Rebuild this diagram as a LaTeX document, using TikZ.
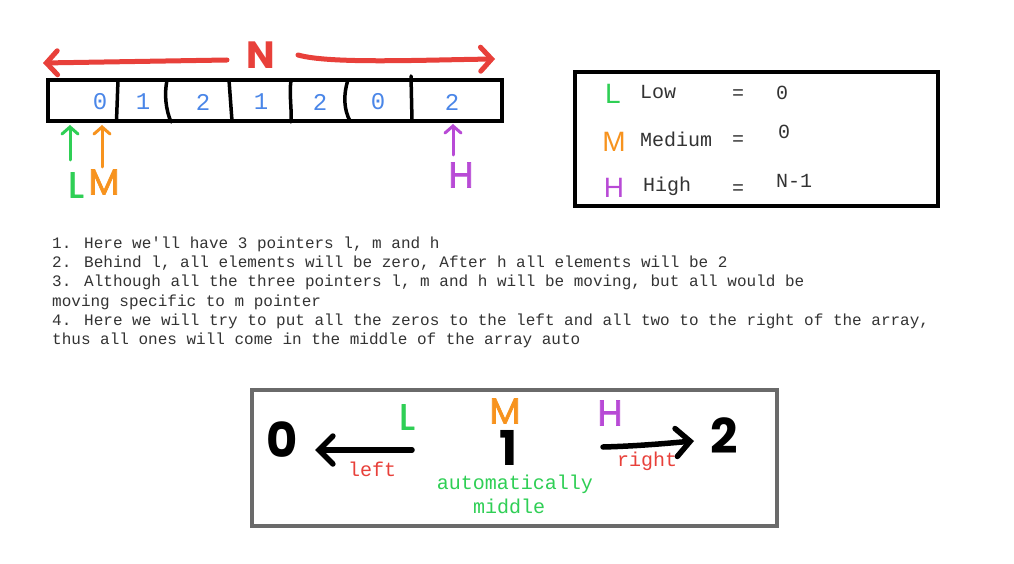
\documentclass[tikz,border=0pt]{standalone}
\usepackage{fontspec}
\setmainfont{Liberation Sans}
\newfontfamily\mono{Liberation Mono}
\newfontfamily\hand{Poppins}
\newfontfamily\handm[FakeBold=2]{Poppins}
\usetikzlibrary{arrows.meta}
\definecolor{cred}{HTML}{E8403A}
\definecolor{cblue}{HTML}{4A86E8}
\definecolor{cgreen}{HTML}{2FCF55}
\definecolor{corange}{HTML}{F7931E}
\definecolor{cpurple}{HTML}{B84AD6}
\definecolor{ctext}{HTML}{333333}
\definecolor{cgray}{HTML}{6A6A6A}
\tikzset{
  para/.style={anchor=base west, inner sep=0pt, text=ctext, font=\mono\fontsize{16}{19}\selectfont},
  digit/.style={inner sep=0pt, text=cblue, font=\mono\fontsize{24}{28}\selectfont},
  legtxt/.style={anchor=base west, inner sep=0pt, text=ctext, font=\mono\fontsize{20}{24}\selectfont},
  legletter/.style={inner sep=0pt, font=\fontsize{28}{30}\selectfont},
  handl/.style={inner sep=0pt, font=\handm\fontsize{36}{40}\selectfont},
  handb/.style={anchor=base, inner sep=0pt, font=\hand\bfseries\fontsize{48}{52}\selectfont},
  small/.style={anchor=base, inner sep=0pt, font=\mono\fontsize{20}{24}\selectfont},
  ptr/.style={line width=3pt, line cap=round, -{Straight Barb[length=7pt,width=16pt,line cap=round]}},
  bigarrow/.style={line width=5pt, line cap=round, -{Straight Barb[length=11pt,width=24pt,line cap=round]}},
  blackarrow/.style={line width=5.5pt, line cap=round, -{Straight Barb[length=14pt,width=28pt,line cap=round]}},
  divider/.style={line width=3.5pt, line cap=round},
}
\begin{document}
\begin{tikzpicture}[x=1pt,y=-1pt]
\useasboundingbox (0,0) rectangle (1014,564);
\fill[white] (0,0) rectangle (1014,564);

% ---------- top array ----------
\node[draw, line width=3.5pt, minimum width=454pt, minimum height=41pt, inner sep=0pt] (arr) at (275,100.5) {};
\draw[divider] (118,80) -- (116.5,121);
\draw[divider] (167,80) .. controls (164,95) and (166,110) .. (171,122);
\draw[divider] (229,80) -- (232,121);
\draw[divider] (291,80) .. controls (289,95) and (292,110) .. (291,122);
\draw[divider] (348,80) .. controls (343,95) and (344,110) .. (350,121);
\draw[divider] (411,76) -- (412,121);

\node[digit] (d0) at (100,102) {0};
\node[digit] (d1) at (143,102) {1};
\node[digit] (d2) at (203,102) {2};
\node[digit] (d3) at (261,102) {1};
\node[digit] (d4) at (320,102) {2};
\node[digit] (d5) at (378,102) {0};
\node[digit] (d6) at (452,102) {2};

% N with arrows
\node[inner sep=0pt, text=cred, font=\hand\bfseries\fontsize{38}{40}\selectfont] (N) at (261,55) {N};
\coordinate (nl0) at (227,60);
\coordinate (nl1) at (43,63);
\coordinate (nr0) at (298,55);
\coordinate (nr1) at (495,59);
\draw[bigarrow, cred] (nl0) -- (nl1);
\draw[bigarrow, cred] (nr0) .. controls (330,64) and (420,60) .. (nr1);

% pointers
\node[handl, text=cgreen] (Lt) at (76,185) {L};
\node[handl, text=corange] (Mt) at (104,182) {M};
\node[handl, text=cpurple] (Ht) at (461,175) {H};
\coordinate (la) at (70,160);
\coordinate (lb) at (70,125);
\coordinate (ma) at (102,167);
\coordinate (mb) at (102,125);
\coordinate (ha) at (453,155);
\coordinate (hb) at (453,124);
\draw[ptr, cgreen] (la) -- (lb);
\draw[ptr, corange] (ma) -- (mb);
\draw[ptr, cpurple] (ha) -- (hb);

% ---------- legend ----------
\node[draw, line width=3.5pt, minimum width=363pt, minimum height=134pt, inner sep=0pt] (leg) at (756.5,139) {};
\node[legletter, text=cgreen] (lgL) at (613,94) {L};
\node[legletter, text=corange] (lgM) at (614,142) {M};
\node[legletter, text=cpurple] (lgH) at (614,188) {H};
\node[legtxt] (low) at (640,99) {Low};
\node[legtxt] (med) at (640,147) {Medium};
\node[legtxt] (high) at (643,192) {High};
\node[legtxt] (e1) at (732,100) {=};
\node[legtxt] (e2) at (732,146) {=};
\node[legtxt] (e3) at (732,195) {=};
\node[legtxt] (v1) at (776,100) {0};
\node[legtxt] (v2) at (778,139) {0};
\node[legtxt] (v3) at (776,188) {N-1};

% ---------- paragraph ----------
\node[para] (p1) at (52,248.5) {1. Here we'll have 3 pointers l, m and h};
\node[para] (p2) at (52,267.7) {2. Behind l, all elements will be zero, After h all elements will be 2};
\node[para] (p3) at (52,286.9) {3. Although all the three pointers l, m and h will be moving, but all would be};
\node[para] (p4) at (52,306.1) {moving specific to m pointer};
\node[para] (p5) at (52,325.3) {4. Here we will try to put all the zeros to the left and all two to the right of the array,};
\node[para] (p6) at (52,344.5) {thus all ones will come in the middle of the array auto};

% ---------- bottom box ----------
\node[draw=cgray, line width=3.5pt, minimum width=525pt, minimum height=136pt, inner sep=0pt] (box) at (514.5,458) {};
\node[handb] (zero) at (282,457) {0};
\node[handb] (one) at (509,465) {1};
\node[handb] (two) at (724,453) {2};
\node[handl, text=cgreen] (bL) at (407,417) {L};
\node[handl, text=corange] (bM) at (505,411) {M};
\node[handl, text=cpurple] (bH) at (610,413) {H};
\coordinate (a0) at (412,450);
\coordinate (a1) at (315,450);
\coordinate (b0) at (603,447);
\coordinate (b1) at (694,441);
\draw[blackarrow] (a0) -- (a1);
\draw[blackarrow] (b0) .. controls (640,446) and (670,443) .. (b1);
\node[small, text=cred] (left) at (372,476) {left};
\node[small, text=cred] (right) at (647,466) {right};
\node[small, text=cgreen] (auto) at (515,489) {automatically};
\node[small, text=cgreen] (mid) at (509,513) {middle};
\end{tikzpicture}
\end{document}
